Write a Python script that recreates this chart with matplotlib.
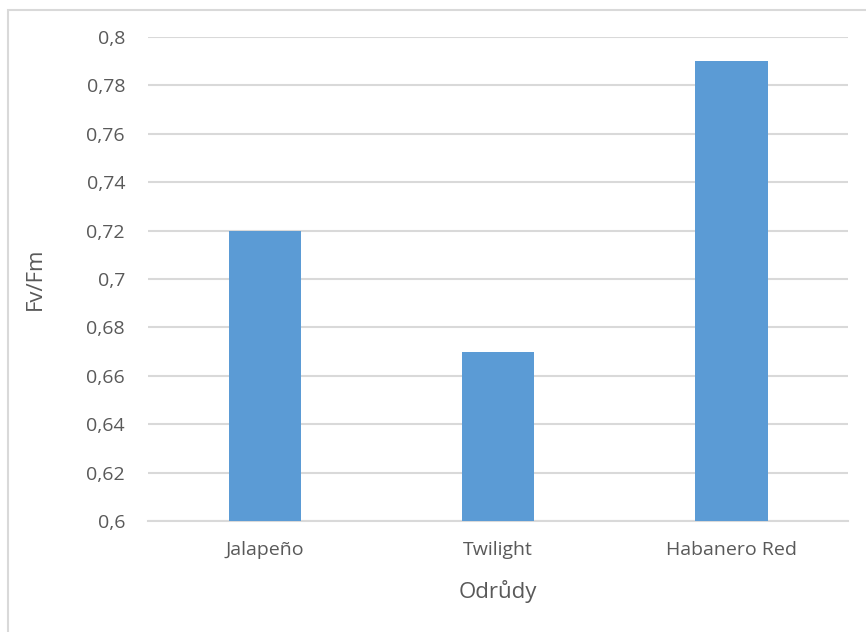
import matplotlib.pyplot as plt
from matplotlib.patches import Rectangle
from matplotlib.ticker import FuncFormatter

# Fv/Fm per variety
odrudy = ["Jalapeño", "Twilight", "Habanero Red"]
fv_fm = [0.72, 0.67, 0.79]
y_ticks = [0.6, 0.62, 0.64, 0.66, 0.68, 0.7, 0.72, 0.74, 0.76, 0.78, 0.8]

BAR_COLOR = "#5B9BD5"
GRID_COLOR = "#D9D9D9"
TEXT_COLOR = "#595959"

plt.rcParams["font.family"] = ["Open Sans", "DejaVu Sans"]

fig = plt.figure(figsize=(8.66, 6.32), dpi=100)
ax = fig.add_axes([148 / 866, 1 - 521 / 632, 700 / 866, 484 / 632])

x = list(range(len(odrudy)))
ax.bar(x, fv_fm, width=0.31, color=BAR_COLOR, zorder=3)

ax.set_xlim(-0.5, len(odrudy) - 0.5)
ax.set_ylim(0.6, 0.8)
ax.set_yticks(y_ticks)
ax.yaxis.set_major_formatter(
    FuncFormatter(lambda v, _: f"{v:.2f}".rstrip("0").rstrip(".").replace(".", ","))
)
ax.set_xticks(x)
ax.set_xticklabels(odrudy)

ax.grid(axis="y", color=GRID_COLOR, linewidth=1.5, zorder=0)
for side in ("top", "right", "left"):
    ax.spines[side].set_visible(False)
ax.spines["bottom"].set_color(GRID_COLOR)
ax.spines["bottom"].set_linewidth(1.5)
ax.tick_params(axis="both", length=0, labelsize=14, colors=TEXT_COLOR)
ax.tick_params(axis="y", pad=16.5)
ax.tick_params(axis="x", pad=14.5)

ax.set_xlabel("Odrůdy", fontsize=16, color=TEXT_COLOR, labelpad=15)
ax.set_ylabel("Fv/Fm", fontsize=16, color=TEXT_COLOR, labelpad=29)

# chart area frame
fig.patches.append(Rectangle((8 / 866, -0.05), 1.0, 1 - 10 / 632 + 0.05,
                             transform=fig.transFigure, fill=False,
                             edgecolor=GRID_COLOR, linewidth=1.5))

fig.savefig("out.png", dpi=100, facecolor="white")
